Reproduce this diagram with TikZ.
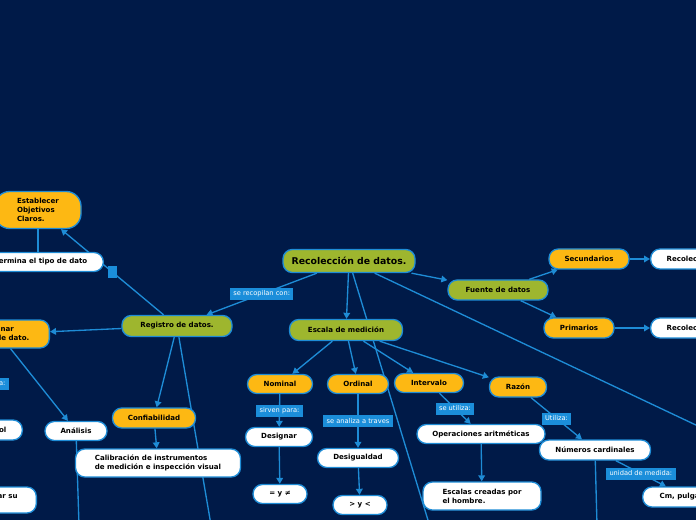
\documentclass[tikz,border=0pt]{standalone}
\usepackage{fontspec}
\setmainfont{DejaVu Sans}
\usetikzlibrary{arrows.meta}
\pgfdeclarelayer{back}
\pgfdeclarelayer{mid}
\pgfsetlayers{back,mid,main}
\definecolor{navy}{HTML}{001A48}
\definecolor{linkblue}{HTML}{1E8CD6}
\definecolor{tagblue}{HTML}{1B8EDA}
\definecolor{olive}{HTML}{9EB62E}
\definecolor{amber}{HTML}{FDB813}
\tikzset{every picture/.style={line width=0.75pt}}
\tikzset{
  box/.style={draw=linkblue, line width=1pt, rounded corners=7pt, inner sep=0pt, text=black,
    font=\fontsize{5.3}{6.6}\selectfont\bfseries},
  greenbox/.style={box, fill=olive},
  orangebox/.style={box, fill=amber},
  whitebox/.style={box, fill=white},
  tag/.style={fill=tagblue, text=white, inner xsep=2.5pt, inner ysep=0pt, minimum height=9pt,
    font=\fontsize{5}{6}\selectfont},
  link/.style={draw=linkblue, line width=1pt},
  arr/.style={link, -{Triangle[length=4.5pt,width=5pt]}},
  grip/.style={fill=tagblue, minimum width=6.75pt, minimum height=9pt, inner sep=0pt},
}

\begin{document}
\begin{tikzpicture}[x=0.75pt,y=0.75pt,yscale=-1,xscale=1]
\useasboundingbox (0,0) rectangle (696,520);
\begin{pgfonlayer}{back}
\fill[navy] (0,0) rectangle (696,520);
\end{pgfonlayer}

% Text Node
\node[greenbox, minimum width=99pt, minimum height=17.25pt, font=\fontsize{7}{8}\selectfont\bfseries] (root) at (349,261) {Recolección de datos.};
% Text Node
\node[greenbox, minimum width=75pt, minimum height=15pt] (fuente) at (498,290) {Fuente de datos};
% Text Node
\node[orangebox, minimum width=60pt, minimum height=15pt] (secund) at (589,259) {Secundarios};
% Text Node
\node[orangebox, minimum width=52.5pt, minimum height=15pt] (primar) at (579,328) {Primarios};
% Text Node
\node[whitebox, anchor=west, minimum height=15pt, inner xsep=12pt] (recolS) at (650,259) {Recolección};
% Text Node
\node[whitebox, anchor=west, minimum height=15pt, inner xsep=12pt] (recolP) at (650,328) {Recolección};
% Text Node
\node[greenbox, minimum width=84.75pt, minimum height=15.75pt] (escala) at (346,330) {Escala de medición};
% Text Node
\node[greenbox, minimum width=82.5pt, minimum height=15.75pt] (registro) at (177,326) {Registro de datos.};
% Text Node
\node[orangebox, minimum width=48.75pt, minimum height=14.25pt] (nominal) at (280,384) {Nominal};
% Text Node
\node[orangebox, minimum width=45.75pt, minimum height=14.25pt] (ordinal) at (358,384) {Ordinal};
% Text Node
\node[orangebox, minimum width=51.75pt, minimum height=14.25pt] (interv) at (429,383) {Intervalo};
% Text Node
\node[orangebox, minimum width=42.75pt, minimum height=15pt] (razon) at (518,387) {Razón};
% Text Node
\node[whitebox, minimum width=50.25pt, minimum height=14.25pt] (designar) at (279,437) {Designar};
% Text Node
\node[whitebox, minimum width=40.5pt, minimum height=14.25pt] (neq) at (280,494) {= y ≠};
% Text Node
\node[whitebox, minimum width=60.75pt, minimum height=14.25pt] (desig) at (358,458) {Desigualdad};
% Text Node
\node[whitebox, minimum width=40.5pt, minimum height=14.25pt] (ineq) at (360,505) {> y <};
% Text Node
\node[whitebox, minimum width=96pt, minimum height=14.25pt] (operac) at (481,434) {Operaciones aritméticas};
% Text Node
\node[whitebox, minimum width=88.5pt, minimum height=21pt, align=left] (escalas) at (482,496) {Escalas creadas por\\el hombre.};
% Text Node
\node[whitebox, minimum width=83.25pt, minimum height=15pt] (numeros) at (595,450) {Números cardinales};
% Text Node
\node[whitebox, anchor=west, minimum height=15pt, inner xsep=12.75pt] (cm) at (642,497) {Cm, pulgadas};
% Text Node
\node[orangebox, minimum width=62.25pt, minimum height=15pt] (confiab) at (154,418) {Confiabilidad};
% Text Node
\node[whitebox, minimum width=123.75pt, minimum height=21pt, align=left] (calib) at (158,463) {Calibración de instrumentos\\de medición e inspección visual};
% Text Node
\node[whitebox, minimum width=46.5pt, minimum height=14.25pt] (analisis) at (76,431) {Análisis};
% Text Node
\node[orangebox, minimum width=64.5pt, minimum height=27.75pt, rounded corners=11pt, align=left] (establecer) at (38,210) {Establecer\\Objetivos\\Claros.};
% Text Node
\node[whitebox, anchor=east, minimum height=14.25pt, inner xsep=12pt] (determina) at (104,262) {Determina el tipo de dato};
% Text Node
\node[orangebox, anchor=east, minimum height=21pt, inner xsep=15pt, align=left] (leftorange) at (50,334) {Determinar\\el tipo de dato.};
% Text Node
\node[tag, anchor=east] (lefttag) at (9,384) {se aplica:};
% Text Node
\node[whitebox, anchor=east, minimum height=15pt, inner xsep=12pt] (control) at (23,430) {Control};
% Text Node
\node[whitebox, anchor=east, minimum height=19.5pt, inner xsep=14pt, align=left] (leftsu) at (37,500) {Evaluar su\\uso.};

\coordinate (rootS) at (431,530);
\coordinate (rootE) at (717,435);
\coordinate (registroS) at (211,525);
\coordinate (analisisS) at (79,525);
\coordinate (numerosS) at (597,525);

\begin{pgfonlayer}{mid}
%Straight Lines
\draw[arr] (root) -- (escala);
\draw[arr] (root) -- (fuente);
\draw[arr] (root) -- node[tag] (recop) {se recopilan con:} (registro);
\draw[link] (root) -- (rootS);
\draw[link] (root) -- (rootE);
%Straight Lines
\draw[arr] (fuente) -- (secund);
\draw[arr] (fuente) -- (primar);
\draw[arr] (secund) -- (recolS);
\draw[arr] (primar) -- (recolP);
%Straight Lines
\draw[arr] (escala) -- (nominal);
\draw[arr] (escala) -- (ordinal);
\draw[arr] (escala) -- (interv);
\draw[arr] (escala) -- (razon);
\draw[arr] (nominal) -- node[tag] (sirven) {sirven para:} (designar);
\draw[arr] (designar) -- (neq);
\draw[arr] (ordinal) -- node[tag] (analiza) {se analiza a traves} (desig);
\draw[arr] (desig) -- (ineq);
\draw[arr] (interv) -- node[tag] (utiliza) {se utiliza:} (operac);
\draw[arr] (operac) -- (escalas);
\draw[arr] (razon) -- node[tag] (utilizaR) {Utiliza:} (numeros);
\draw[arr] (numeros) -- node[tag] (unidad) {unidad de medida:} (cm);
\draw[link] (numeros) -- (numerosS);
%Straight Lines
\draw[arr] (registro) -- node[grip] (handle) {} (establecer);
\draw[link] (establecer) -- (establecer |- determina.north);
\draw[arr] (registro) -- (leftorange);
\draw[arr] (registro) -- (confiab);
\draw[link] (registro) -- (registroS);
\draw[arr] (confiab) -- (calib);
\draw[arr] (leftorange) -- (analisis);
\draw[link] (analisis) -- (analisisS);
\end{pgfonlayer}
\end{tikzpicture}
\end{document}
